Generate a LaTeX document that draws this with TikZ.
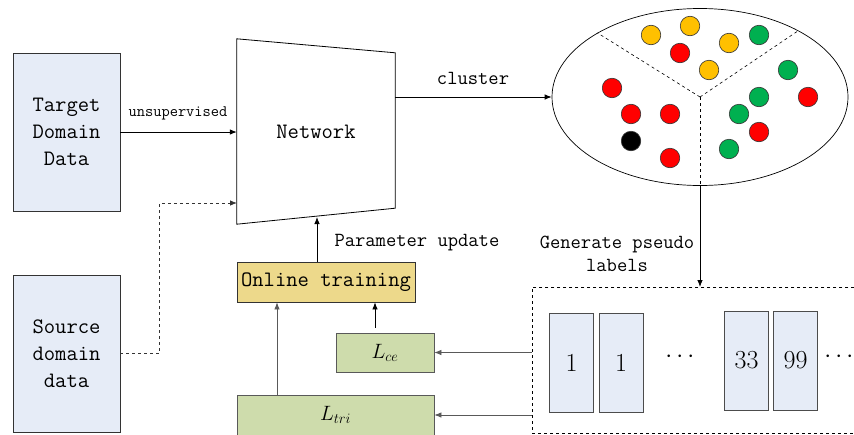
\documentclass[tikz,border=0pt]{standalone}
\usepackage{amsmath}
\usepackage{xcolor}
\usetikzlibrary{arrows.meta,positioning,calc,shapes.geometric}

\definecolor{boxblue}{HTML}{E6ECF7}
\definecolor{trainyellow}{HTML}{EDD98B}
\definecolor{lossgreen}{HTML}{CEDCAC}
\definecolor{ballyellow}{HTML}{FFC000}
\definecolor{ballred}{HTML}{FF0000}
\definecolor{ballgreen}{HTML}{00B050}

\begin{document}
\begin{tikzpicture}[
  x=1pt,
  y=-1pt,
  font=\ttfamily\fontsize{22}{27}\selectfont,
  >={Latex[length=7pt,width=5.5pt]},
  flow/.style={->, line width=0.8pt, draw=black},
  feed/.style={->, line width=0.8pt, draw=black!65},
  src/.style={->, line width=0.8pt, dashed, draw=black!80},
  databox/.style={draw=black!80, line width=0.8pt, fill=boxblue,
    minimum width=107pt, minimum height=158pt, align=center, inner sep=0pt},
  trainbox/.style={draw=black!80, line width=0.8pt, fill=trainyellow,
    minimum width=178pt, minimum height=40pt, inner sep=0pt},
  lossbox/.style={draw=black!65, line width=0.8pt, fill=lossgreen,
    minimum height=40pt, inner sep=0pt, font=\fontsize{22}{22}\selectfont},
  labbox/.style={draw=black!70, line width=0.8pt, fill=boxblue,
    minimum width=44pt, minimum height=99pt, inner sep=0pt,
    font=\rmfamily\fontsize{26}{26}\selectfont},
  ball/.style={circle, draw=black!80, line width=0.6pt,
    minimum size=19.5pt, inner sep=0pt},
  note/.style={font=\ttfamily\fontsize{20}{23}\selectfont, align=center}
]

\useasboundingbox (0,0) rectangle (854,434);
\clip (0,0) rectangle (854,434);

% inputs
\node[databox] (tgt) at (66.5,132) {Target\\Domain\\Data};
\node[databox, minimum height=157pt] (srcdata) at (66.5,353.5) {Source\\domain\\data};

% network (trapezoid round a plain node)
\node[minimum width=158pt, minimum height=185pt, inner sep=0pt] (net) at (316,131.5) {Network};
\draw[line width=0.8pt] (net.north west) -- ([yshift=-14pt]net.north east)
  -- ([yshift=16pt]net.south east) -- (net.south west) -- cycle;
\coordinate (netdash) at (237,203);
\coordinate (netbot) at (317,217);

% clusters
\node[draw, ellipse, line width=0.7pt, minimum width=296pt, minimum height=177pt,
  inner sep=0pt] (clus) at (700,97) {};
\draw[dashed, line width=0.6pt] (clus.center) -- (clus.148);
\draw[dashed, line width=0.6pt] (clus.center) -- (clus.34);
\draw[dashed, line width=0.6pt] (clus.center) -- (clus.south);
\foreach \cx/\cy/\cc [count=\i] in {
    651/35/ballyellow, 690/26/ballyellow, 729/43/ballyellow, 709/70/ballyellow,
    680/53/ballred, 759/35/ballgreen, 788/70/ballgreen, 759/97/ballgreen,
    739/114/ballgreen, 729/149/ballgreen, 808/97/ballred, 759/132/ballred,
    612/88/ballred, 631/114/ballred, 670/114/ballred, 670/158/ballred,
    631/141/black}
  \node[ball, fill=\cc] (b\i) at (\cx,\cy) {};

% pseudo labels
\node[draw, dashed, line width=0.6pt, minimum width=340pt, minimum height=146pt,
  anchor=north west, inner sep=0pt] (pbox) at (532,287) {};
\node[labbox] (l1) at (571.5,362.5) {1};
\node[labbox] (l2) at (621,362.5) {1};
\node[font=\fontsize{26}{26}\selectfont] (dots1) at (682,357) {$\cdots$};
\node[labbox] (l3) at (746.5,360.5) {33};
\node[labbox] (l4) at (795.5,360.5) {99};
\node[font=\fontsize{26}{26}\selectfont] (dots2) at (841,357) {$\cdots$};

% training
\node[trainbox] (train) at (326,282) {Online training};
\node[lossbox, minimum width=98pt, minimum height=39pt] (lce) at (385,352.5) {$L_{ce}$};
\node[lossbox, minimum width=197pt] (ltri) at (335.5,415) {$L_{tri}$};

% labels
\node[font=\ttfamily\fontsize{16}{16}\selectfont] (unsup) at (178,113) {unsupervised};
\node[note] (clt) at (473,78) {cluster};
\node[note, anchor=west] (upd) at (331,243) {Parameter update};
\node[note] (gen) at (617,254) {Generate pseudo\\labels};

\draw[flow] (tgt.east) -- (tgt.east -| net.west);
\draw[src] (srcdata.east) -- ++(39,0) |- (netdash);
\draw[flow] (net.east |- clus.west) -- (clus.west);
\draw[flow] (clus.south) -- (clus.south |- pbox.north);
\draw[flow] ([xshift=-9pt]train.north) -- (netbot);
\draw[feed] (pbox.west |- lce.east) -- (lce.east);
\draw[feed] (pbox.west |- ltri.east) -- (ltri.east);
\draw[feed] ([xshift=-58.5pt]ltri.north) -- ([xshift=-49pt]train.south);
\draw[flow] ([xshift=-10pt,yshift=5pt]lce.north) -- ([xshift=49pt]train.south);

\end{tikzpicture}
\end{document}
